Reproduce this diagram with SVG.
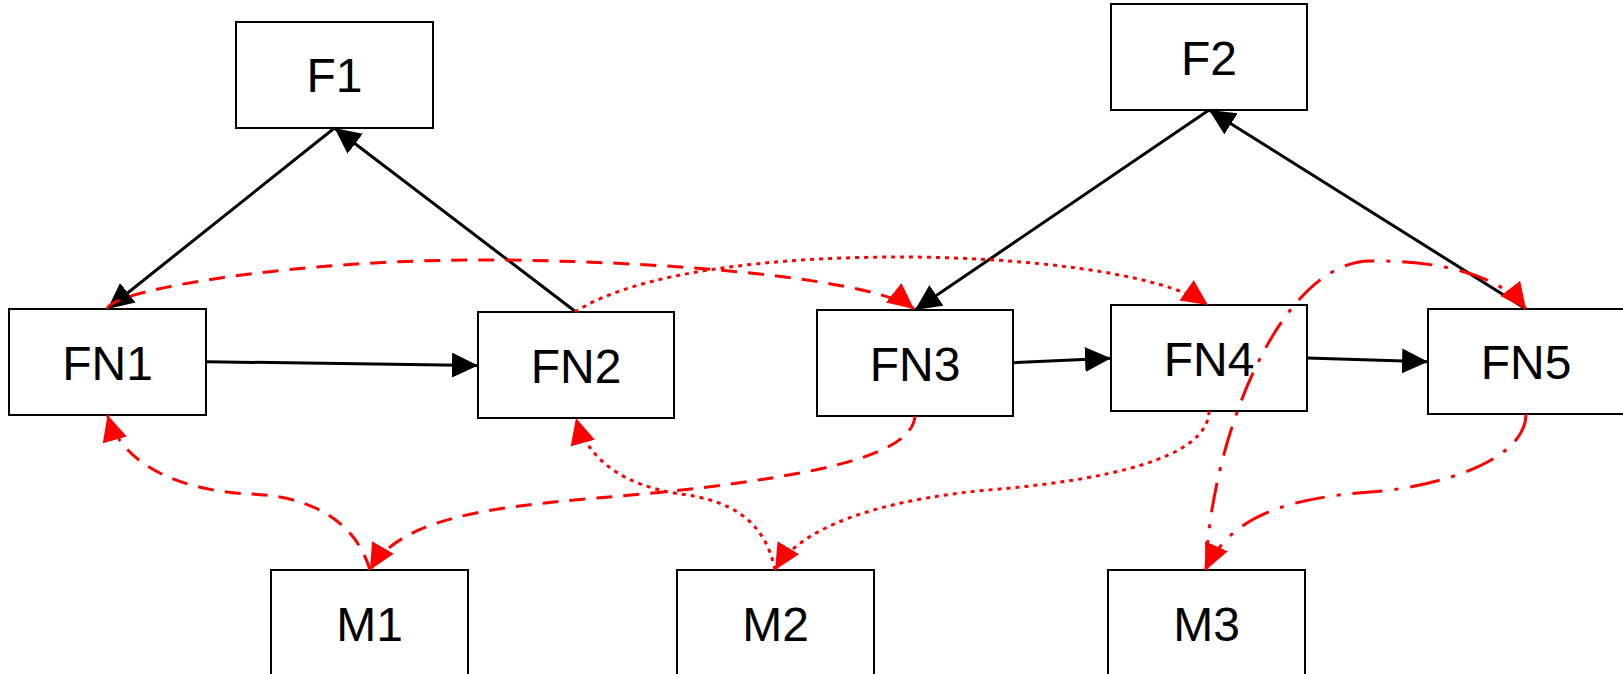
<svg xmlns="http://www.w3.org/2000/svg" width="1623" height="674" viewBox="0 0 1623 674">
<style>
.box{fill:#fff;stroke:#000;stroke-width:2}
.lbl{font-family:"Liberation Sans",Arial,sans-serif;font-size:48px;fill:#000;text-anchor:middle}
.blk{fill:none;stroke:#000;stroke-width:3}
.red{fill:none;stroke:#f00;stroke-width:3}
.dash{stroke-dasharray:16 11}
.dot{stroke-dasharray:4 5}
.dashdot{stroke-dasharray:30 12 4 12}
</style>
<defs>
<marker id="ab" markerUnits="userSpaceOnUse" markerWidth="27" markerHeight="26" refX="26" refY="12.5" orient="auto-start-reverse"><path d="M0,0 L26,12.5 L0,25 z" fill="#000"/></marker>
<marker id="ar" markerUnits="userSpaceOnUse" markerWidth="27" markerHeight="26" refX="26" refY="12.5" orient="auto-start-reverse"><path d="M0,0 L26,12.5 L0,25 z" fill="#f00"/></marker>
</defs>
<rect width="1623" height="674" fill="#fff"/>
<g id="F1"><rect class="box" x="236" y="22" width="197" height="106"/><text class="lbl" x="334.5" y="92">F1</text></g>
<g id="F2"><rect class="box" x="1111" y="4" width="196" height="106"/><text class="lbl" x="1209" y="74.5">F2</text></g>
<g id="FN1"><rect class="box" x="9" y="309" width="197" height="106"/><text class="lbl" x="107.5" y="379.5">FN1</text></g>
<g id="FN2"><rect class="box" x="478" y="312" width="196" height="106"/><text class="lbl" x="576" y="382.5">FN2</text></g>
<g id="FN3"><rect class="box" x="817" y="310" width="196" height="106"/><text class="lbl" x="915" y="380.5">FN3</text></g>
<g id="FN4"><rect class="box" x="1111" y="305" width="196" height="106"/><text class="lbl" x="1209" y="375.5">FN4</text></g>
<g id="FN5"><rect class="box" x="1428" y="309" width="196" height="105"/><text class="lbl" x="1526" y="379">FN5</text></g>
<g id="M1"><rect class="box" x="271" y="570" width="197" height="106"/><text class="lbl" x="369.5" y="640.5">M1</text></g>
<g id="M2"><rect class="box" x="677" y="570" width="197" height="106"/><text class="lbl" x="775.5" y="640.5">M2</text></g>
<g id="M3"><rect class="box" x="1108" y="570" width="197" height="106"/><text class="lbl" x="1206.5" y="640.5">M3</text></g>
<g id="connectors">
<path class="blk" d="M334.5,128 L107.5,309" marker-end="url(#ab)"/>
<path class="blk" d="M576,312 L334.5,128" marker-end="url(#ab)"/>
<path class="blk" d="M206,361.7 L478,365.5" marker-end="url(#ab)"/>
<path class="blk" d="M1209,110 L915,310" marker-end="url(#ab)"/>
<path class="blk" d="M1526,309 L1209,110" marker-end="url(#ab)"/>
<path class="blk" d="M1013,362.7 L1111,358.3" marker-end="url(#ab)"/>
<path class="blk" d="M1307,358 L1428,361.7" marker-end="url(#ab)"/>
<path class="red dash" d="M107,309 C110,290 300,258 500,260 C700,262 880,282 914,309" marker-end="url(#ar)"/>
<path class="red dot" d="M575,312 C640,270 780,257 900,257 C1020,257 1160,272 1208,305" marker-end="url(#ar)"/>
<path class="red dashdot" d="M1206,570 C1210,440 1280,262 1370,261 C1440,260 1500,275 1526,309" marker-end="url(#ar)"/>
<path class="red dash" d="M370,570 C355,520 310,496 250,494 C200,492 125,475 107.5,415" marker-end="url(#ar)"/>
<path class="red dash" d="M915,416 C912,455 820,473 700,488 C560,505 410,500 370,570" marker-end="url(#ar)"/>
<path class="red dot" d="M775,570 C765,520 730,500 680,494 C640,488 590,470 576,418" marker-end="url(#ar)"/>
<path class="red dot" d="M1209,411 C1208,460 1100,480 1000,489 C900,497 805,520 775,570" marker-end="url(#ar)"/>
<path class="red dashdot" d="M1526,414 C1526,460 1440,487 1370,492 C1290,498 1230,515 1206,570" marker-end="url(#ar)"/>
</g>
</svg>
